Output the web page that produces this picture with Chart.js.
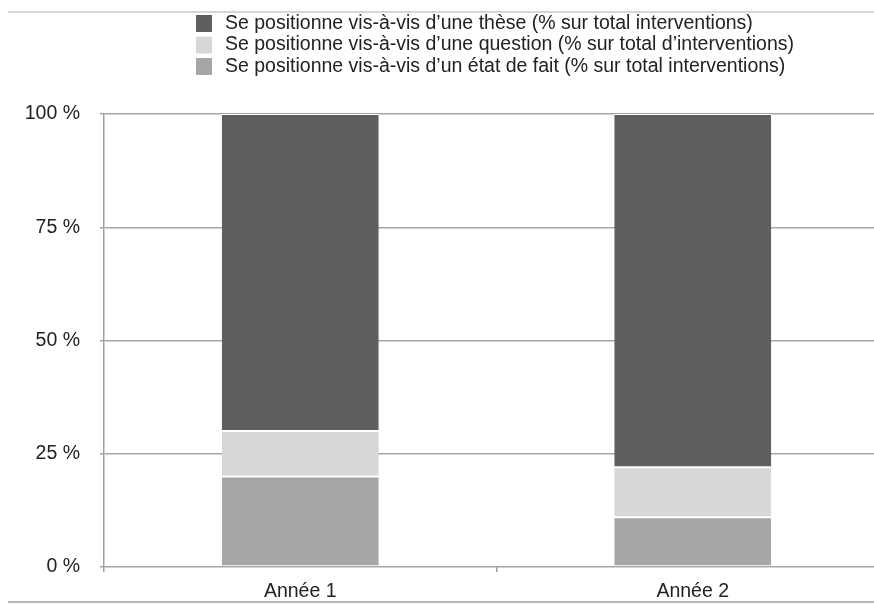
<!DOCTYPE html>
<html>
<head>
<meta charset="utf-8">
<script src="https://cdn.jsdelivr.net/npm/chart.js@4/dist/chart.umd.min.js"></script>
<style>
  html, body { margin: 0; padding: 0; background: #fff; overflow: hidden; width: 874px; height: 604px; }
  #wrap { width: 900px; height: 604px; position: relative; }
</style>
</head>
<body>
<div id="wrap"><canvas id="c" width="900" height="604"></canvas></div>
<script>
const categories = ['Année 1', 'Année 2'];
const seriesLabels = [
  'Se positionne vis-à-vis d\u2019une thèse (% sur total interventions)',
  'Se positionne vis-à-vis d\u2019une question (% sur total d\u2019interventions)',
  'Se positionne vis-à-vis d\u2019un état de fait (% sur total interventions)'
];
const theseValues = [70, 78];
const questionValues = [10, 11];
const faitValues = [20, 11];
const yTicks = [0, 25, 50, 75, 100];
const colors = ['#5f5f5f', '#d7d7d7', '#a6a6a6'];

const FONT = '"Liberation Sans", Arial, Helvetica, sans-serif';
const FS = 19.5;

const frameLegend = {
  id: 'frameLegend',
  afterDraw(chart) {
    const ctx = chart.ctx;
    ctx.save();
    // frame lines
    ctx.strokeStyle = '#c8c8c8';
    ctx.lineWidth = 1.5;
    ctx.beginPath(); ctx.moveTo(8, 12); ctx.lineTo(chart.width, 12); ctx.stroke();
    ctx.strokeStyle = '#a0a0a0';
    ctx.beginPath(); ctx.moveTo(8, 602); ctx.lineTo(chart.width, 602); ctx.stroke();
    // legend (top series first)
    const order = [2, 1, 0];
    const rowsY = [23.5, 45, 66.5];
    ctx.font = FS + 'px ' + FONT;
    ctx.textBaseline = 'middle';
    ctx.textAlign = 'left';
    order.forEach((di, i) => {
      const ds = chart.data.datasets[di];
      ctx.fillStyle = ds.backgroundColor;
      ctx.fillRect(196, rowsY[i] - 8.5, 16, 17);
      ctx.fillStyle = '#222';
      ctx.fillText(ds.label, 225, rowsY[i]);
    });
    ctx.restore();
  }
};

new Chart(document.getElementById('c'), {
  type: 'bar',
  data: {
    labels: categories,
    datasets: [
      { label: seriesLabels[2], data: faitValues, backgroundColor: colors[2] },
      { label: seriesLabels[1], data: questionValues, backgroundColor: colors[1] },
      { label: seriesLabels[0], data: theseValues, backgroundColor: colors[0] }
    ].map(d => Object.assign(d, {
      borderColor: '#ffffff',
      borderWidth: { top: 1, bottom: 1, left: 0, right: 0 },
      borderSkipped: false,
      barPercentage: 0.4,
      categoryPercentage: 1.0
    }))
  },
  options: {
    responsive: false,
    animation: false,
    devicePixelRatio: 1,
    layout: { padding: { left: 0, right: 11, top: 114, bottom: 0 } },
    plugins: { legend: { display: false }, tooltip: { enabled: false } },
    scales: {
      x: {
        stacked: true,
        offset: true,
        grid: { display: true, drawOnChartArea: false, drawTicks: true, tickLength: 5, color: '#a0a0a0', lineWidth: 1.5, offset: true },
        border: { display: false },
        ticks: { color: '#222', font: { family: FONT, size: FS }, padding: 8 },
        afterFit(scale) { scale.height = 37; }
      },
      y: {
        stacked: true,
        min: 0, max: 100,
        afterBuildTicks(scale) { scale.ticks = yTicks.map(v => ({ value: v })); },
        grid: { color: '#a6a6a6', lineWidth: 1.5, tickLength: 4, drawTicks: true },
        border: { display: true, color: '#a0a0a0', width: 1.5 },
        ticks: { color: '#222', font: { family: FONT, size: FS }, padding: 20, callback: v => v + ' %' },
        afterFit(scale) { scale.width = 104; }
      }
    }
  },
  plugins: [frameLegend]
});
</script>
</body>
</html>
